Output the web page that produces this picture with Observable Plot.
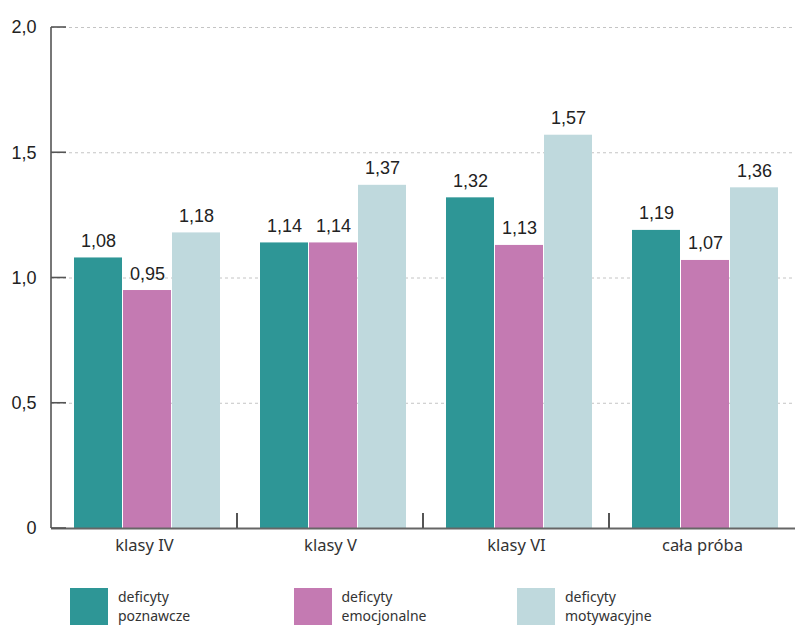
<!DOCTYPE html>
<html>
<head>
<meta charset="utf-8">
<script src="https://cdn.jsdelivr.net/npm/d3@7"></script>
<script src="https://cdn.jsdelivr.net/npm/@observablehq/plot@0.6"></script>
<style>
  body { margin: 0; background: #fff; }
  #wrap { position: relative; width: 795px; height: 625px; overflow: hidden; background: #fff; }
  .legend { position: absolute; top: 588px; left: 70px; display: flex; font-family: "Noto Sans", sans-serif; font-size: 14px; color: #333; }
  .legend .item { display: flex; align-items: flex-start; width: 223.5px; }
  .legend .swatch { width: 38px; height: 37px; flex: none; }
  .legend .name { margin-left: 10px; margin-top: -1px; line-height: 19px; }
</style>
</head>
<body>
<div id="wrap"></div>
<script>
// Średnie nasilenie deficytów w grupach klas
const categories = ["klasy IV", "klasy V", "klasy VI", "cała próba"];
const seriesNames = ["deficyty poznawcze", "deficyty emocjonalne", "deficyty motywacyjne"];
const poznawcze = [1.08, 1.14, 1.32, 1.19];
const emocjonalne = [0.95, 1.14, 1.13, 1.07];
const motywacyjne = [1.18, 1.37, 1.57, 1.36];
const yTicks = [0, 0.5, 1.0, 1.5, 2.0];
const colors = ["#2e9696", "#c47ab2", "#bfd9dd"];

const seriesValues = [poznawcze, emocjonalne, motywacyjne];
const rows = categories.flatMap((cat, i) =>
  seriesNames.map((s, j) => ({cat, series: s, value: seriesValues[j][i]}))
);

const fmtValue = d => d.toFixed(2).replace(".", ",");
const fmtTick = d => d === 0 ? "0" : d.toFixed(1).replace(".", ",");

const chart = Plot.plot({
  width: 795,
  height: 560,
  marginLeft: 51,
  marginRight: 0,
  marginTop: 27,
  marginBottom: 32,
  style: {fontFamily: "'Liberation Sans', Arial, sans-serif", background: "#fff", color: "#222"},
  fx: {domain: categories, padding: 0, label: null, axis: null},
  x: {domain: seriesNames, paddingInner: 0.03, paddingOuter: 0.39, align: 0.57, axis: null},
  y: {domain: [0, 2], axis: null},
  color: {domain: seriesNames, range: colors},
  marks: [
    Plot.gridY(yTicks, {stroke: "#c4c4c4", strokeOpacity: 1, strokeDasharray: "3,3"}),
    Plot.barY(rows, {fx: "cat", x: "series", y: "value", fill: "series"}),
    Plot.text(rows, {
      fx: "cat", x: "series", y: "value", text: d => fmtValue(d.value),
      dy: -11, lineAnchor: "bottom", fontSize: 18, fill: "#222"
    }),
    Plot.ruleY([0], {stroke: "#666", strokeWidth: 2}),
    Plot.axisY(yTicks, {tickSize: 0, tickPadding: 15, fontSize: 18, tickFormat: fmtTick, label: null, fill: "#222"}),
    Plot.axisFx({anchor: "bottom", tickSize: 0, tickPadding: 11, fontSize: 16.5, label: null, fontFamily: "'Noto Sans', sans-serif", fill: "#333"})
  ]
});

// axis line, inward y ticks and group separators, positioned from the plot's scales
const fx = chart.scale("fx");
const y = chart.scale("y");
const left = fx.apply(categories[0]);
const base = y.apply(0);
const g = d3.select(chart).append("g").attr("stroke", "#555").attr("fill", "none");
g.append("line").attr("x1", left).attr("x2", left).attr("y1", base).attr("y2", y.apply(2)).attr("stroke-width", 1.6);
yTicks.forEach(t => {
  g.append("line").attr("x1", left).attr("x2", left + 15).attr("y1", y.apply(t)).attr("y2", y.apply(t)).attr("stroke-width", 1.6);
});
categories.slice(1).forEach(c => {
  const x = fx.apply(c);
  g.append("line").attr("x1", x).attr("x2", x).attr("y1", base).attr("y2", base - 15).attr("stroke-width", 2);
});

const wrap = document.getElementById("wrap");
wrap.appendChild(chart);

const legend = document.createElement("div");
legend.className = "legend";
seriesNames.forEach((s, j) => {
  const item = document.createElement("div");
  item.className = "item";
  const sw = document.createElement("div");
  sw.className = "swatch";
  sw.style.background = colors[j];
  const name = document.createElement("div");
  name.className = "name";
  name.innerHTML = s.split(" ").join("<br>");
  item.appendChild(sw);
  item.appendChild(name);
  legend.appendChild(item);
});
wrap.appendChild(legend);
</script>
</body>
</html>
